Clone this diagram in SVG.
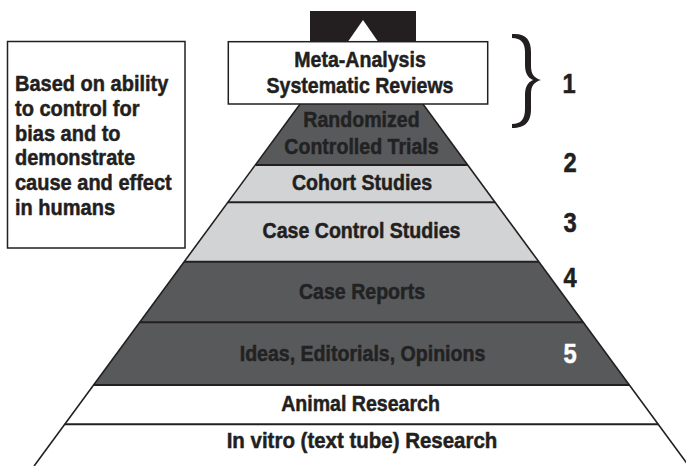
<svg xmlns="http://www.w3.org/2000/svg" width="686" height="466" viewBox="0 0 686 466">
  <style>
    text { font-family: "Liberation Sans", Arial, sans-serif; font-weight: bold; stroke-width: 0.5px; stroke-linejoin: round; }
    .lbl { font-size: 21.5px; text-anchor: middle; fill: #231f20; stroke: #231f20; }
    .lbl-dark { font-size: 21.5px; text-anchor: middle; fill: #222223; stroke: #222223; }
    .note { font-size: 22px; fill: #231f20; stroke: #231f20; }
    .num { font-size: 27px; text-anchor: middle; fill: #231f20; stroke: #231f20; }
    .num-light { fill: #ffffff; stroke: #ffffff; }
    .band-dark { fill: #58595b; }
    .band-light { fill: #d1d3d4; }
    .band-white { fill: #ffffff; }
    .sep { stroke: #231f20; stroke-width: 2; }
    .edge { stroke: #231f20; stroke-width: 1.6; fill: none; }
    .box { fill: #ffffff; stroke: #231f20; stroke-width: 1.5; }
  </style>

  <rect width="686" height="466" fill="#ffffff"/>

  <!-- Explanatory note -->
  <g id="note">
    <rect class="box" x="7.5" y="41.5" width="177.5" height="206.5"/>
    <text class="note" transform="translate(15 91) scale(0.91 1)">Based on ability</text>
    <text class="note" transform="translate(15 115.8) scale(0.91 1)">to control for</text>
    <text class="note" transform="translate(15 140.6) scale(0.91 1)">bias and to</text>
    <text class="note" transform="translate(15 165.4) scale(0.91 1)">demonstrate</text>
    <text class="note" transform="translate(15 190.2) scale(0.91 1)">cause and effect</text>
    <text class="note" transform="translate(15 215) scale(0.91 1)">in humans</text>
  </g>

  <!-- Apex cap -->
  <g id="apex">
    <rect x="310" y="11" width="106" height="32" fill="#231f20"/>
    <polygon points="363,20 379,43 347,43" fill="#ffffff"/>
  </g>

  <!-- Pyramid tiers -->
  <g id="tier-rct">
    <polygon class="band-dark" points="300.1,104 422.9,104 467.7,165 255.3,165"/>
    <text class="lbl-dark" transform="translate(361.5 127.3) scale(0.91 1)">Randomized</text>
    <text class="lbl-dark" transform="translate(361.5 154) scale(0.91 1)">Controlled Trials</text>
  </g>
  <g id="tier-cohort">
    <polygon class="band-light" points="255.3,165 467.7,165 495.1,202.3 227.9,202.3"/>
    <text class="lbl" transform="translate(362 190) scale(0.91 1)">Cohort Studies</text>
  </g>
  <g id="tier-case-control">
    <polygon class="band-light" points="227.9,202.3 495.1,202.3 538.8,261.7 184.2,261.7"/>
    <text class="lbl" transform="translate(361.5 238.3) scale(0.91 1)">Case Control Studies</text>
  </g>
  <g id="tier-case-reports">
    <polygon class="band-dark" points="184.2,261.7 538.8,261.7 583.3,322.3 139.7,322.3"/>
    <text class="lbl-dark" transform="translate(362 299.3) scale(0.91 1)">Case Reports</text>
  </g>
  <g id="tier-ideas">
    <polygon class="band-dark" points="139.7,322.3 583.3,322.3 629.4,385 93.6,385"/>
    <text class="lbl-dark" transform="translate(362.5 360.7) scale(0.91 1)">Ideas, Editorials, Opinions</text>
  </g>
  <g id="tier-animal">
    <polygon class="band-white" points="93.6,385 629.4,385 658.3,424.3 64.7,424.3"/>
    <text class="lbl" transform="translate(360.5 411) scale(0.91 1)">Animal Research</text>
  </g>
  <g id="tier-in-vitro">
    <polygon class="band-white" points="64.7,424.3 658.3,424.3 688.9,466 34.1,466"/>
    <text class="lbl" transform="translate(362 448) scale(0.91 1)" style="font-size:22.5px">In vitro (text tube) Research</text>
  </g>

  <!-- Tier outlines -->
  <g id="connectors">
    <line class="sep" x1="255.3" y1="165" x2="467.7" y2="165"/>
    <line class="sep" x1="227.9" y1="202.3" x2="495.1" y2="202.3"/>
    <line class="sep" x1="184.2" y1="261.7" x2="538.8" y2="261.7"/>
    <line class="sep" x1="139.7" y1="322.3" x2="583.3" y2="322.3"/>
    <line class="sep" x1="93.6" y1="385" x2="629.4" y2="385"/>
    <line class="sep" x1="64.7" y1="424.3" x2="658.3" y2="424.3" stroke="#4a4a4c"/>
    <line class="edge" x1="300.1" y1="104" x2="34.1" y2="466"/>
    <line class="edge" x1="422.9" y1="104" x2="688.9" y2="466"/>
    <!-- curly brace grouping the top tier -->
    <path fill="#231f20" d="M 512 34 C 526 33, 531 40, 531 52 L 531 66 C 531 74, 534 78, 541 80 C 534 82, 531 86, 531 94 L 531 109 C 531 121, 526 128, 512 128 L 512 124 C 521 124, 525 119, 525 109 L 525 95 C 525 87, 528 82, 533 80 C 528 78, 525 73, 525 65 L 525 52 C 525 43, 521 38, 512 38 Z"/>
  </g>

  <!-- Top tier box -->
  <g id="tier-meta">
    <rect class="box" x="228.3" y="41.7" width="259.4" height="62.3"/>
    <text class="lbl" transform="translate(360 67.3) scale(0.91 1)">Meta-Analysis</text>
    <text class="lbl" transform="translate(360 93.3) scale(0.91 1)">Systematic Reviews</text>
  </g>

  <!-- Level numbers -->
  <g id="levels">
    <text class="num" transform="translate(569 93) scale(0.88 1)">1</text>
    <text class="num" transform="translate(570 171.7) scale(0.88 1)">2</text>
    <text class="num" transform="translate(570 231.7) scale(0.88 1)">3</text>
    <text class="num" transform="translate(570 286.7) scale(0.88 1)">4</text>
    <text class="num num-light" transform="translate(570 363) scale(0.88 1)">5</text>
  </g>
</svg>
